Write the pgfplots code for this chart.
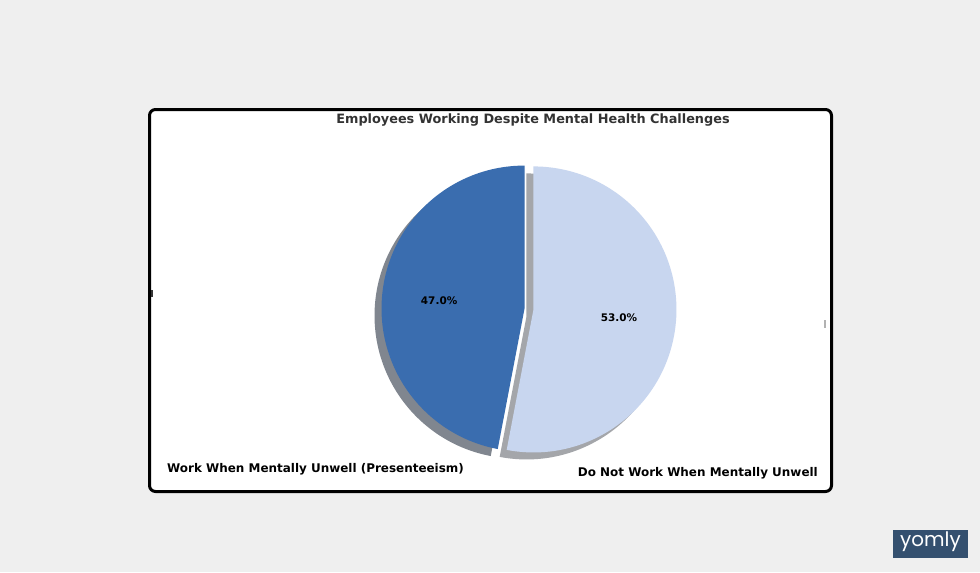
\documentclass[border=0pt]{standalone}
\usepackage{fontspec}
\setmainfont{DejaVu Sans}
\newfontfamily\logofont{Poppins}
\usepackage{pgfplots}
\usepackage{pgfplotstable}
\usetikzlibrary{calc}
\pgfplotsset{compat=1.18}
\pgfkeys{/pgf/number format/assume math mode=true}

\definecolor{bg}{HTML}{EFEFEF}
\definecolor{darkslice}{HTML}{3A6DAF}
\definecolor{lightslice}{HTML}{C8D6EF}
\definecolor{darkshadow}{HTML}{80868F}
\definecolor{lightshadow}{HTML}{A4A6AA}
\definecolor{titlegray}{HTML}{333333}
\definecolor{logoblue}{HTML}{34506F}

% shares of the two slices, in percent
\pgfplotstableread{
share
47.0
53.0
}\pietable

\begin{document}
\begin{tikzpicture}
\pgfplotstablegetelem{0}{share}\of\pietable
\pgfmathsetmacro\shareA{\pgfplotsretval}
\pgfplotstablegetelem{1}{share}\of\pietable
\pgfmathsetmacro\shareB{\pgfplotsretval}
\pgfmathsetmacro\angA{90+3.6*\shareA}     % end of first slice
\pgfmathsetmacro\midA{(90+\angA)/2}
\pgfmathsetmacro\midB{(\angA+450)/2}
\def\rad{143bp}
\def\expl{4.5bp}
\begin{axis}[
    width=980bp, height=572bp, scale only axis,
    xmin=0, xmax=980, ymin=0, ymax=572,
    y dir=reverse,
    hide axis,
    clip=false,
]
% page and card
\fill[bg] (axis cs:0,0) rectangle (axis cs:980,572);
\draw[black, line width=3bp, rounded corners=6bp, fill=white]
    (axis cs:149.5,109.5) rectangle (axis cs:831.5,491.5);

% shadows
\fill[darkshadow] (axis cs:522,316) ++(\midA:\expl) -- ++(90:\rad)
    arc[start angle=90, end angle=\angA, radius=\rad] -- cycle;
\fill[lightshadow] (axis cs:522,316) ++(\midB:\expl) -- ++(\angA:\rad)
    arc[start angle=\angA, end angle=450, radius=\rad] -- cycle;

% slices
\fill[darkslice] (axis cs:529,309) ++(\midA:\expl) -- ++(90:\rad)
    arc[start angle=90, end angle=\angA, radius=\rad] -- cycle;
\fill[lightslice] (axis cs:529,309) ++(\midB:\expl) -- ++(\angA:\rad)
    arc[start angle=\angA, end angle=450, radius=\rad] -- cycle;

% percentages
\node[font=\bfseries\fontsize{10.5}{12}\selectfont] at ($(axis cs:529,309)+(\midA:\expl)+(\midA:85.8bp)$) {\pgfmathprintnumber[fixed,fixed zerofill,precision=1]{\shareA}\%};
\node[font=\bfseries\fontsize{10.5}{12}\selectfont] at ($(axis cs:529,309)+(\midB:\expl)+(\midB:85.8bp)$) {\pgfmathprintnumber[fixed,fixed zerofill,precision=1]{\shareB}\%};

% texts
\node[font=\bfseries\fontsize{12.9}{15}\selectfont, text=titlegray]
    at (axis cs:533,120.5) {Employees Working Despite Mental Health Challenges};
\node[font=\bfseries\fontsize{12}{14}\selectfont, anchor=west, inner sep=0pt]
    at (axis cs:167,469) {Work When Mentally Unwell (Presenteeism)};
\node[font=\bfseries\fontsize{12}{14}\selectfont, anchor=east, inner sep=0pt]
    at (axis cs:818,473) {Do Not Work When Mentally Unwell};

% small stray marks at the card edges
\fill[black!80] (axis cs:151,290) rectangle (axis cs:153,297);
\fill[black!30] (axis cs:824,320) rectangle (axis cs:826,328);

% logo
\fill[logoblue] (axis cs:893,530) rectangle (axis cs:968,558);
\node[text=white, font=\logofont\fontsize{20}{20}\selectfont] at (axis cs:930.5,542) {yomly};
\end{axis}
\end{tikzpicture}
\end{document}
